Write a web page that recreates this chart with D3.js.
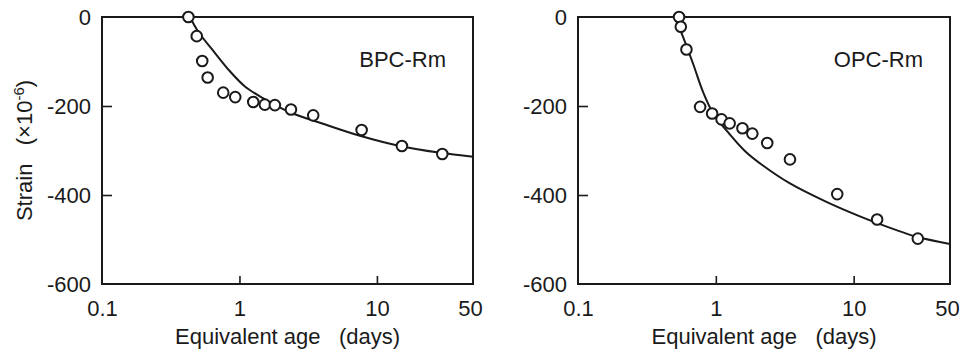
<!DOCTYPE html>
<html>
<head>
<meta charset="utf-8">
<script src="https://cdn.jsdelivr.net/npm/d3@7"></script>
<style>
    body { margin: 0; background: #fff; }
    svg { display: block; font-family: "Liberation Sans", Arial, sans-serif; }
</style>
</head>
<body>
<div id="chart"></div>
<script>
// Measured points
const bpcAge = [0.425, 0.489, 0.536, 0.587, 0.762, 0.932, 1.26, 1.53, 1.81, 2.37, 3.44, 7.74, 15.2, 29.9];
const bpcStrain = [0, -43, -99, -136, -170, -180, -191, -197, -198, -208, -221, -254, -290, -308];
const opcAge = [0.541, 0.557, 0.612, 0.769, 0.94, 1.10, 1.26, 1.56, 1.84, 2.36, 3.45, 7.6, 14.8, 29.2];
const opcStrain = [0, -22, -73, -202, -217, -230, -239, -250, -262, -283, -320, -398, -455, -498];

// Fitted curves
const bpcFitAge = [0.437, 0.499, 0.664, 0.853, 1.096, 1.458, 2.33, 4.05, 7.52, 15.2, 28.7, 50];
const bpcFitStrain = [0, -32, -81, -122, -156, -181, -214, -240, -267, -291, -305, -314];
const opcFitAge = [0.503, 0.579, 0.684, 0.809, 0.955, 1.264, 1.624, 2.158, 3.45, 6.4, 11.1, 14.8, 28.8, 50];
const opcFitStrain = [0, -45, -105, -169, -216, -264, -301, -332, -374, -416, -448, -463, -494, -510];

// Axis ticks
const xTicks = [0.1, 1, 10, 50];
const yTicks = [0, -200, -400, -600];

const canvas = { w: 961, h: 352 };
const plot = { top: 17, bottom: 284 };
const panels = [
    { name: "BPC-Rm", age: bpcAge, strain: bpcStrain, fitAge: bpcFitAge, fitStrain: bpcFitStrain, x0: 102, x1: 473, yTitle: true },
    { name: "OPC-Rm", age: opcAge, strain: opcStrain, fitAge: opcFitAge, fitStrain: opcFitStrain, x0: 578, x1: 950, yTitle: false }
];
const ink = "#1a1a1a";
const fontSize = 22;

const svg = d3.select("#chart")
    .append("svg")
    .attr("width", canvas.w)
    .attr("height", canvas.h);

const y = d3.scaleLinear()
    .domain([-600, 0])
    .range([plot.bottom, plot.top]);

panels.forEach(p => {
    const x = d3.scaleLog()
        .domain([0.1, 50])
        .range([p.x0, p.x1]);

    const g = svg.append("g");

    // inward ticks, frame drawn separately
    const yAxis = g.append("g")
        .attr("transform", `translate(${p.x0},0)`)
        .call(d3.axisLeft(y).tickValues(yTicks).tickSize(-10).tickFormat(d => String(d)));
    yAxis.select(".domain").remove();
    yAxis.selectAll("text")
        .attr("font-size", fontSize)
        .attr("font-family", "Liberation Sans, Arial, sans-serif")
        .attr("fill", ink)
        .attr("x", -11);
    yAxis.selectAll("line")
        .attr("stroke", ink)
        .attr("stroke-width", 1.6)
        .filter(d => d === 0 || d === -600).remove();

    const xAxis = g.append("g")
        .attr("transform", `translate(0,${plot.bottom})`)
        .call(d3.axisBottom(x).tickValues(xTicks).tickSize(-8).tickFormat(d => String(d)));
    xAxis.select(".domain").remove();
    xAxis.selectAll("text")
        .attr("font-size", fontSize)
        .attr("font-family", "Liberation Sans, Arial, sans-serif")
        .attr("fill", ink)
        .attr("y", 16)
        .attr("x", d => d === 50 ? -3 : 0);
    xAxis.selectAll("line")
        .attr("stroke", ink)
        .attr("stroke-width", 1.6)
        .filter(d => d === 0.1 || d === 50).remove();

    // frame
    g.append("rect")
        .attr("x", p.x0)
        .attr("y", plot.top)
        .attr("width", p.x1 - p.x0)
        .attr("height", plot.bottom - plot.top)
        .attr("fill", "none")
        .attr("stroke", ink)
        .attr("stroke-width", 2);

    // fitted curve
    const fit = p.fitAge.map((a, i) => [a, p.fitStrain[i]]);
    const line = d3.line()
        .x(d => x(d[0]))
        .y(d => y(d[1]))
        .curve(d3.curveCatmullRom.alpha(0.5));
    g.append("path")
        .datum(fit)
        .attr("d", line)
        .attr("fill", "none")
        .attr("stroke", ink)
        .attr("stroke-width", 2);

    // measured points
    g.selectAll("circle")
        .data(p.age.map((a, i) => [a, p.strain[i]]))
        .enter()
        .append("circle")
        .attr("cx", d => x(d[0]))
        .attr("cy", d => y(d[1]))
        .attr("r", 5.3)
        .attr("fill", "#fff")
        .attr("stroke", ink)
        .attr("stroke-width", 2);

    // panel label
    g.append("text")
        .attr("x", p.x1 - 27)
        .attr("y", 67)
        .attr("text-anchor", "end")
        .attr("font-size", fontSize)
        .attr("fill", ink)
        .text(p.name);

    // x title
    g.append("text")
        .attr("x", (p.x0 + p.x1) / 2)
        .attr("y", 344)
        .attr("text-anchor", "middle")
        .attr("font-size", fontSize)
        .attr("fill", ink)
        .style("white-space", "pre")
        .text("Equivalent age   (days)");

    if (p.yTitle) {
        const t = g.append("text")
            .attr("transform", `translate(32,${(plot.top + plot.bottom) / 2}) rotate(-90)`)
            .attr("text-anchor", "middle")
            .attr("font-size", fontSize)
            .attr("fill", ink)
            .style("white-space", "pre");
        t.append("tspan").text("Strain   (\u00d710");
        t.append("tspan").attr("dy", -8).attr("font-size", 15).text("-6");
        t.append("tspan").attr("dy", 8).text(")");
    }
});
</script>
</body>
</html>
